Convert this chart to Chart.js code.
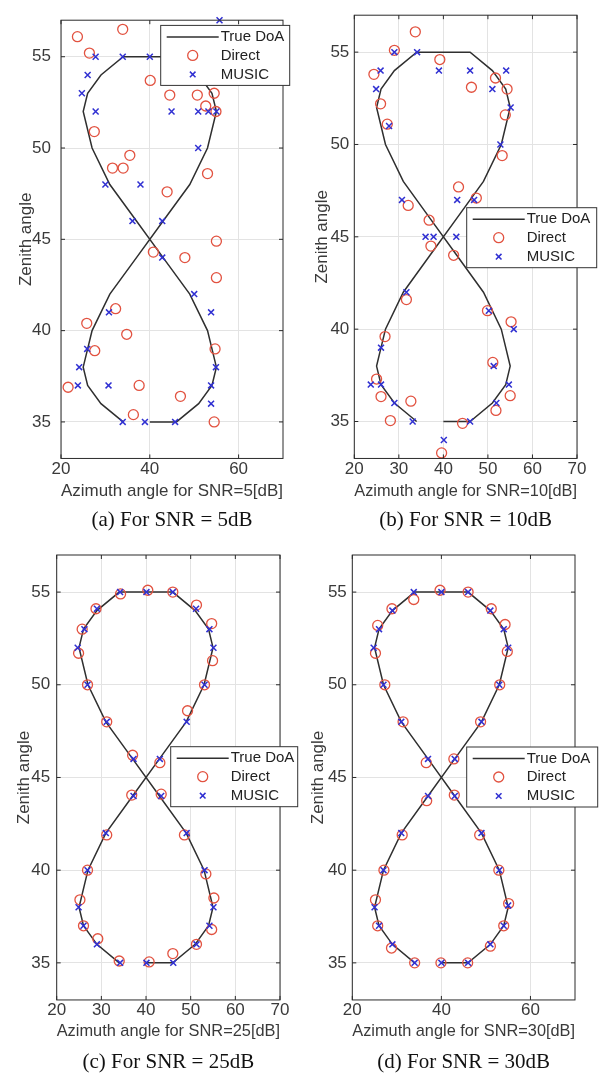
<!DOCTYPE html>
<html><head><meta charset="utf-8">
<script src="https://cdn.jsdelivr.net/npm/chart.js@4"></script>
<style>
html,body{margin:0;padding:0;background:#fff;}
body{width:601px;height:1074px;position:relative;overflow:hidden;}
canvas{position:absolute;}
</style></head><body>
<canvas id="pa" width="300" height="537" style="left:0;top:0"></canvas>
<canvas id="pb" width="301" height="537" style="left:300px;top:0"></canvas>
<canvas id="pc" width="300" height="537" style="left:0;top:537px"></canvas>
<canvas id="pd" width="301" height="537" style="left:300px;top:537px"></canvas>
<script>
// ---------- data ----------
const seriesLabels = ['True DoA', 'Direct', 'MUSIC'];
const yTicks = [35, 40, 45, 50, 55];
const xTicksWide = [20, 40, 60];
const xTicksFine = [20, 30, 40, 50, 60, 70];
const yTitle = 'Zenith angle';
const xTitles = ['Azimuth angle for SNR=5[dB]', 'Azimuth angle for SNR=10[dB]', 'Azimuth angle for SNR=25[dB]', 'Azimuth angle for SNR=30[dB]'];
const captions = ['(a) For SNR = 5dB', '(b) For SNR = 10dB', '(c) For SNR = 25dB', '(d) For SNR = 30dB'];

const trueDoA = [[40,35],[46,35],[51,36],[54,37],[55,38],[53,40],[49,42],[43,44],[37,46],[31,48],[27,50],[25,52],[26,53],[29,54],[34,55],[40,55],[46,55],[51,54],[54,53],[55,52],[53,50],[49,48],[43,46],[37,44],[31,42],[27,40],[25,38],[26,37],[29,36],[34,35]];

const directSNR5 = [[23.7,56.1],[33.9,56.5],[26.4,55.2],[40.1,53.7],[44.5,52.9],[50.7,52.9],[54.5,53.0],[52.6,52.3],[54.9,52.0],[27.5,50.9],[35.5,49.6],[31.6,48.9],[34.0,48.9],[53.0,48.6],[43.9,47.6],[55.0,44.9],[40.8,44.3],[47.9,44.0],[55.0,42.9],[32.3,41.2],[25.8,40.4],[34.8,39.8],[27.6,38.9],[54.7,39.0],[21.6,36.9],[37.6,37.0],[46.9,36.4],[36.3,35.4],[54.5,35.0]];
const musicSNR5 = [[55.7,57.0],[27.8,55],[33.9,55],[40,55],[26,54],[24.7,53],[27.8,52],[44.9,52],[50.9,52],[53.2,52],[55,52],[50.9,50],[30,48],[37.9,48],[36.1,46],[42.8,46],[42.8,44],[50,42],[30.8,41],[53.8,41],[25.9,39],[24.1,38],[54.9,38],[23.8,37],[30.7,37],[53.8,37],[53.8,36],[33.9,35],[38.9,35],[45.7,35]];

const directSNR10 = [[33.7,56.1],[29,55.1],[39.2,54.6],[24.4,53.8],[51.7,53.6],[46.3,53.1],[54.3,53.0],[25.9,52.2],[53.9,51.6],[27.4,51.1],[53.2,49.4],[43.4,47.7],[47.4,47.1],[32.1,46.7],[36.8,45.9],[37.2,44.5],[42.3,44.0],[31.7,41.6],[49.9,41.0],[55.2,40.4],[26.9,39.6],[51.1,38.2],[25,37.3],[26,36.35],[32.7,36.1],[55.0,36.4],[51.8,35.6],[28.1,35.05],[44.3,34.9],[39.6,33.3]];
const musicSNR10 = [[29,55],[34.1,55],[25.9,54],[39,54],[46,54],[54.1,54],[24.9,53],[51,53],[55.1,52],[27.8,51],[52.8,50],[30.7,47],[43.1,47],[46.9,47],[36,45],[37.8,45],[42.9,45],[31.7,42],[50.2,41],[55.8,40],[26,39],[51.3,38],[23.7,37],[26,37],[54.7,37],[29,36],[51.9,36],[33.1,35],[46,35],[40.1,34]];

const directSNR25 = [[34.3,54.9],[40.4,55.1],[46,55],[51.3,54.3],[28.8,54.1],[54.7,53.3],[25.7,53],[24.9,51.7],[54.9,51.3],[26.9,50],[53.1,50],[31.2,48],[49.3,48.6],[37,46.2],[43.1,45.8],[36.8,44.05],[43.4,44.1],[31.2,41.9],[48.6,41.9],[26.9,40],[53.4,39.8],[25.2,38.4],[55.2,38.5],[26,37],[54.7,36.8],[29.2,36.3],[51.3,36],[46,35.5],[34,35.1],[40.7,35.05]];
const musicSNR25 = [[34.2,55],[40.1,55],[46,55],[51.2,54.1],[29,54.1],[26.2,53],[54.2,53],[24.7,52],[55.1,52],[26.9,50],[53.1,50],[31.2,48],[49.1,48],[37.2,46],[43.1,46],[37.2,44],[43.4,44],[31,42],[49.1,42],[26.9,40],[53.1,40],[24.9,38],[55.1,38],[26,37],[54.2,37],[29,36],[51.3,36],[34.2,35],[40.1,35],[46.1,35]];

const directSNR30 = [[33.8,54.6],[39.7,55.1],[46,55],[51.2,54.1],[28.9,54.1],[54.3,53.25],[25.7,53.2],[25.2,51.7],[54.8,51.8],[27.3,50],[53.1,50],[31.4,48],[48.8,48],[36.6,45.8],[42.8,46],[36.7,43.75],[42.9,44.05],[31.2,41.9],[48.6,41.9],[27.1,40],[52.9,40],[25.2,38.4],[55.1,38.2],[25.7,37],[54,37],[28.8,35.8],[51,35.9],[45.9,35],[34,35],[39.9,35]];
const musicSNR30 = [[40,35],[46,35],[51,36],[54,37],[55,38.1],[53,40],[49,42],[43,44],[37,46],[31,48],[27,50],[24.8,52],[26,53],[29,54],[33.8,55],[40,55],[46,55],[51,54],[54,53],[55,52],[53,50],[49,48],[43,46],[37,44],[31,42],[27,40],[25,38],[26,37],[29,36],[34,35]];

// ---------- styling ----------
const AXIS_FONT = "'Liberation Sans', Arial, Helvetica, sans-serif";
const CAP_FONT = "'Liberation Serif', 'Times New Roman', serif";
const TEXT_COLOR = '#3a3a3a';
const LINE_COLOR = '#2f2f2f';
const RED = 'rgb(226,82,64)';
const BLUE = 'rgb(48,48,210)';

Chart.defaults.font.family = AXIS_FONT;
Chart.defaults.color = TEXT_COLOR;

const toPts = arr => arr.map(p => ({x: p[0], y: p[1]}));

const frameAndLegend = {
  id: 'frameAndLegend',
  afterDatasetsDraw(chart, args, opts) {
    const {ctx, chartArea: a, scales} = chart;
    ctx.save();
    // axes box with inward tick marks
    ctx.strokeStyle = '#2a2a2a';
    ctx.lineWidth = 1;
    ctx.strokeRect(a.left, a.top, a.right - a.left, a.bottom - a.top);
    ctx.beginPath();
    scales.x.ticks.forEach(t => {
      const p = scales.x.getPixelForValue(t.value);
      ctx.moveTo(p, a.bottom); ctx.lineTo(p, a.bottom - 4);
      ctx.moveTo(p, a.top); ctx.lineTo(p, a.top + 4);
    });
    scales.y.ticks.forEach(t => {
      const p = scales.y.getPixelForValue(t.value);
      ctx.moveTo(a.left, p); ctx.lineTo(a.left + 4, p);
      ctx.moveTo(a.right, p); ctx.lineTo(a.right - 4, p);
    });
    ctx.stroke();

    // legend box
    const bx = a.right + opts.dx, by = a.top + opts.dy;
    ctx.fillStyle = '#fff';
    ctx.fillRect(bx, by, opts.w, opts.h);
    ctx.strokeStyle = '#333';
    ctx.strokeRect(bx, by, opts.w, opts.h);
    const rows = [11.5, 30, 49];
    ctx.font = '15px ' + AXIS_FONT;
    ctx.textBaseline = 'middle';
    ctx.textAlign = 'left';
    chart.data.datasets.forEach((ds, i) => {
      const ry = by + rows[i];
      const mx = bx + 32;
      ctx.strokeStyle = ds.borderColor;
      if (ds.showLine) {
        ctx.lineWidth = 1.5;
        ctx.beginPath(); ctx.moveTo(bx + 6, ry); ctx.lineTo(bx + 58, ry); ctx.stroke();
      } else if (ds.pointStyle === 'circle') {
        ctx.lineWidth = 1.3;
        ctx.beginPath(); ctx.arc(mx, ry, 5, 0, Math.PI * 2); ctx.stroke();
      } else {
        ctx.lineWidth = 1.5;
        const r = 2.8;
        ctx.beginPath();
        ctx.moveTo(mx - r, ry - r); ctx.lineTo(mx + r, ry + r);
        ctx.moveTo(mx - r, ry + r); ctx.lineTo(mx + r, ry - r);
        ctx.stroke();
      }
      ctx.fillStyle = '#222';
      ctx.fillText(ds.label, bx + 60, ry);
    });
    ctx.restore();
  }
};

function makePanel(id, xTicks, xTitle, caption, direct, music, L) {
  new Chart(document.getElementById(id), {
    type: 'scatter',
    data: {
      datasets: [
        {label: seriesLabels[0], data: toPts(trueDoA), showLine: true, borderColor: LINE_COLOR, borderWidth: 1.5,
         pointRadius: 0, tension: 0, fill: false, order: 3, clip: false},
        {label: seriesLabels[1], data: toPts(direct), showLine: false, pointStyle: 'circle', pointRadius: 5,
         borderColor: RED, backgroundColor: 'rgba(0,0,0,0)', pointBorderWidth: 1.3, order: 2, clip: false},
        {label: seriesLabels[2], data: toPts(music), showLine: false, pointStyle: 'crossRot', pointRadius: 4.2,
         borderColor: BLUE, backgroundColor: BLUE, pointBorderWidth: 1.5, order: 1, clip: false}
      ]
    },
    options: {
      responsive: false,
      maintainAspectRatio: false,
      animation: false,
      events: [],
      layout: {padding: {top: L.pt, right: L.pr, bottom: L.pb, left: 0}},
      plugins: {
        legend: {display: false},
        tooltip: {enabled: false},
        title: {display: true, text: caption, position: 'bottom', fullSize: false, color: '#111',
                font: {family: CAP_FONT, size: 21, weight: 'normal', lineHeight: 1.05}, padding: 0},
        frameAndLegend: L.legend
      },
      scales: {
        x: {
          type: 'linear', position: 'bottom', min: 20, max: 70,
          afterBuildTicks: s => { s.ticks = xTicks.map(v => ({value: v})); },
          afterFit: s => { s.height = L.xh; },
          grid: {color: '#e3e3e3', drawTicks: false},
          border: {display: false},
          ticks: {font: {size: 17}, color: TEXT_COLOR, padding: L.xtp, maxRotation: 0, autoSkip: false},
          title: {display: true, text: xTitle, color: TEXT_COLOR, font: {size: 17}, padding: {top: 0, bottom: L.xtb}}
        },
        y: {
          type: 'linear', position: 'left', min: 33, max: 57,
          afterBuildTicks: s => { s.ticks = yTicks.map(v => ({value: v})); },
          afterFit: s => { s.width = L.yw; },
          grid: {color: '#e3e3e3', drawTicks: false},
          border: {display: false},
          ticks: {font: {size: 17}, color: TEXT_COLOR, padding: L.ytp},
          title: {display: true, text: yTitle, color: TEXT_COLOR, font: {size: 17}, padding: {top: L.ytt, bottom: 0}}
        }
      }
    },
    plugins: [frameAndLegend]
  });
}

makePanel('pa', xTicksWide, xTitles[0], captions[0], directSNR5, musicSNR5,
  {pt: 12.5, pr: 17, pb: 5, xh: 51.5, xtp: 1, xtb: 8, yw: 61, ytp: 10, ytt: 16,
   legend: {dx: -122.3, dy: 5.2, w: 129, h: 60}});
makePanel('pb', xTicksFine, xTitles[1], captions[1], directSNR10, musicSNR10,
  {pt: 12.5, pr: 24, pb: 5, xh: 51.5, xtp: 1, xtb: 8, yw: 54.3, ytp: 5, ytt: 12,
   legend: {dx: -110.3, dy: 192.5, w: 130, h: 60}});
makePanel('pc', xTicksFine, xTitles[2], captions[2], directSNR25, musicSNR25,
  {pt: 18, pr: 20, pb: 0, xh: 52, xtp: 0, xtb: 10, yw: 56.7, ytp: 6.5, ytt: 13.8,
   legend: {dx: -109.3, dy: 191.7, w: 127, h: 60}});
makePanel('pd', xTicksWide, xTitles[3], captions[3], directSNR30, musicSNR30,
  {pt: 18, pr: 26, pb: 0, xh: 52, xtp: 0, xtb: 10, yw: 52.3, ytp: 5.5, ytt: 8,
   legend: {dx: -108.3, dy: 192, w: 131, h: 60}});
</script>
</body></html>
